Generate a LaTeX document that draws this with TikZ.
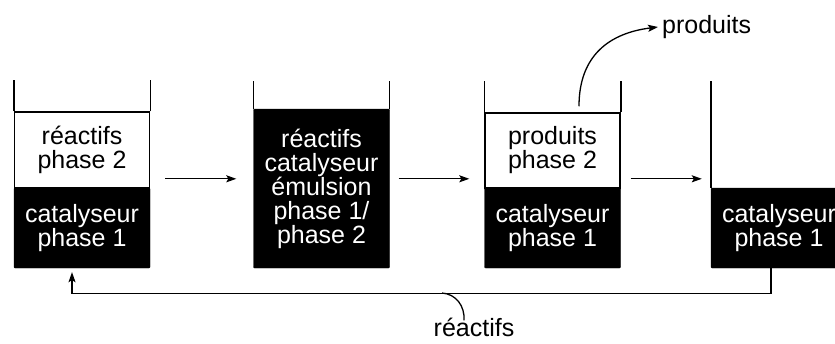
\documentclass[tikz,border=0pt]{standalone}
\usepackage{fontspec}
\setmainfont{Liberation Sans}
\usetikzlibrary{calc}
\usetikzlibrary{arrows.meta}

\tikzset{
 catal/.style={fill=black, draw=black, text=white, minimum width=136pt, minimum height=80pt, align=center, inner sep=0, rounded corners=1pt},
 phase/.style={draw, line width=1.5pt, fill=white, minimum width=135pt, minimum height=76pt, align=center, inner sep=0},
 wall/.style={line width=1.5pt},
 flow/.style={line width=1.3pt, -{Stealth[length=10pt,width=7pt,inset=2pt]}},
}

\begin{document}
\begin{tikzpicture}[x=1pt, y=-1pt, font=\fontsize{25}{24}\selectfont]
\useasboundingbox (0,0) rectangle (835,343);
% beakers
\node[catal] (k1) at (82,228) {catalyseur\\phase 1};
\node[phase] (w1) at (82,150) {réactifs\\phase 2};
\node[catal, minimum height=159pt] (k2) at (321.5,188.5) {réactifs\\catalyseur\\émulsion\\phase 1/\\phase 2};
\node[catal] (k3) at (552.5,228) {catalyseur\\phase 1};
\node[phase, minimum height=75pt] (w3) at (552.5,150.5) {produits\\phase 2};
\node[catal] (k4) at (779,228) {catalyseur\\phase 1};
\foreach \b in {w1,w3}{
 \draw[wall] (\b.north west) -- ++(0,-31);
 \draw[wall] (\b.north east) -- ++(0,-31);
}
\draw[wall] (k2.north west) -- ++(0,-28);
\draw[wall] (k2.north east) -- ++(0,-28);
\draw[wall] (k4.north west) -- ++(0,-107);
\draw[wall] (k4.north east) -- ++(0,-107);
% steps
\draw[flow] ($(k1.north east)+(15,-9)$) -- ($(k2.west |- k1.north)+(-17,-9)$);
\draw[flow] ($(k2.east |- k1.north)+(9,-9)$) -- ($(k3.north west)+(-15,-9)$);
\draw[flow] ($(k3.north east)+(10,-9)$) -- ($(k4.north west)+(-9,-9)$);
% products out
\node[anchor=west, inner sep=0] (prod) at (662,27) {produits};
\draw[flow] ($(w3.north)+(26.5,-6)$) .. controls (579,55) and (610,33) .. ($(prod.west)+(-4,0)$);
% recycling
\draw[flow] ($(k4.south)+(-8,0)$) -- ++(0,25) -| ($(k1.south)+(-10,4)$);
\coordinate (jn) at (442,293);
\node[anchor=base, inner sep=0] (reac) at (474,336) {réactifs};
\draw[line width=1.3pt] (jn) .. controls (456,294) and (465,306) .. ($(reac.north)+(-10,3)$);
\end{tikzpicture}
\end{document}
